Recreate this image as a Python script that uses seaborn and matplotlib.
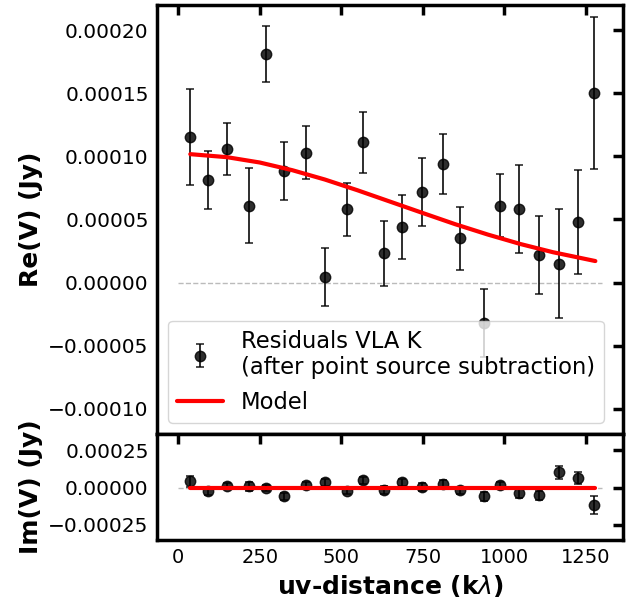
import matplotlib
matplotlib.use("Agg")
import matplotlib.pyplot as plt
import seaborn as sns
import numpy as np

# ---- data ----
uv_dist = [37, 91, 150, 218, 269, 324, 391, 449, 517, 566, 632,
           688, 749, 812, 866, 937, 988, 1046, 1108, 1167, 1228, 1276]
re_vis = [115, 81, 106, 61, 181, 88, 103, 4, 58, 111, 23,
          44, 72, 94, 35, -32, 61, 58, 22, 15, 48, 150]          # micro-Jy
im_vis = [43, -25, 9, 9, -2, -59, 20, 36, -20, 50, -14,
          36, 2, 25, -18, -59, 16, -36, -50, 104, 63, -119]     # micro-Jy
vis_err = [38, 23, 20.5, 30, 22, 23, 21, 23, 21, 24, 26,
           25, 27, 24, 25, 27, 25, 35, 31, 43, 41, 60]          # micro-Jy

model_uv = [37, 150, 250, 350, 450, 550, 650, 750, 850, 950, 1050, 1150, 1280]
model_re = [101.7, 99.3, 95.1, 89.0, 81.6, 73.1, 64.1, 55.1, 46.2, 38.0, 30.5, 24.0, 17.0]
model_im = [0.0, 0.0, 0.0, 0.0, 0.0, 0.0, 0.0, 0.0, 0.0, 0.0, 0.0, 0.0, 0.0]

scale = 1e-6
re_jy = np.array(re_vis) * scale
im_jy = np.array(im_vis) * scale
err_jy = np.array(vis_err) * scale
mre_jy = np.array(model_re) * scale
mim_jy = np.array(model_im) * scale

sns.set_style("white")
plt.rcParams['font.family'] = ['DejaVu Sans']
plt.rcParams['text.color'] = 'black'
plt.rcParams['axes.labelcolor'] = 'black'
plt.rcParams['xtick.color'] = 'black'
plt.rcParams['ytick.color'] = 'black'

fig = plt.figure(figsize=(6.41, 6.08), dpi=100)
gs = fig.add_gridspec(2, 1, height_ratios=[4.05, 1], hspace=0,
                      left=0.245, right=0.972, top=0.992, bottom=0.112)
ax1 = fig.add_subplot(gs[0])
ax2 = fig.add_subplot(gs[1], sharex=ax1)

eb_kw = dict(fmt='o', color='k', alpha=0.82, ms=7.5, capsize=2.8,
             elinewidth=1.4, capthick=1.2, zorder=3)

for ax in (ax1, ax2):
    ax.hlines(0, 0, 1300, colors='#bbbbbb', linestyles='--', lw=1, zorder=1)

ax1.errorbar(uv_dist, re_jy, yerr=err_jy,
             label='Residuals VLA K\n(after point source subtraction)', **eb_kw)
sns.lineplot(x=model_uv, y=mre_jy, ax=ax1, color='red', lw=3, label='Model',
             legend=False, zorder=4)

ax2.errorbar(uv_dist, im_jy, yerr=err_jy, **eb_kw)
sns.lineplot(x=model_uv, y=mim_jy, ax=ax2, color='red', lw=3, legend=False, zorder=4)

ax1.set_xlim(-65, 1365)
ax1.set_ylim(-0.00012, 0.00022)
ax2.set_ylim(-0.00035, 0.00036)
ax1.set_yticks([-0.0001, -0.00005, 0, 0.00005, 0.0001, 0.00015, 0.0002])
ax2.set_yticks([-0.00025, 0, 0.00025])
ax2.set_xticks([0, 250, 500, 750, 1000, 1250])

for ax in (ax1, ax2):
    ax.tick_params(direction='in', which='both', top=True, right=True,
                   length=7, width=2.5, color='k')
    ax.tick_params(axis='y', labelsize=14.5, pad=6)
    ax.tick_params(axis='x', labelsize=14, pad=5.5)
    for s in ax.spines.values():
        s.set_linewidth(2.5)
        s.set_color('k')
ax1.tick_params(labelbottom=False)

ax1.set_ylabel('Re(V) (Jy)', fontsize=18, fontweight='bold')
ax2.set_ylabel('Im(V) (Jy)', fontsize=18, fontweight='bold')
ax2.set_xlabel(r'uv-distance (k$\lambda$)', fontsize=18, fontweight='bold', labelpad=5)
fig.align_ylabels([ax1, ax2])

handles, labels = ax1.get_legend_handles_labels()
order = [labels.index('Residuals VLA K\n(after point source subtraction)'), labels.index('Model')]
ax1.legend([handles[i] for i in order], [labels[i] for i in order],
           loc='lower left', fontsize=16.3)

fig.savefig('out.png', dpi=100)
